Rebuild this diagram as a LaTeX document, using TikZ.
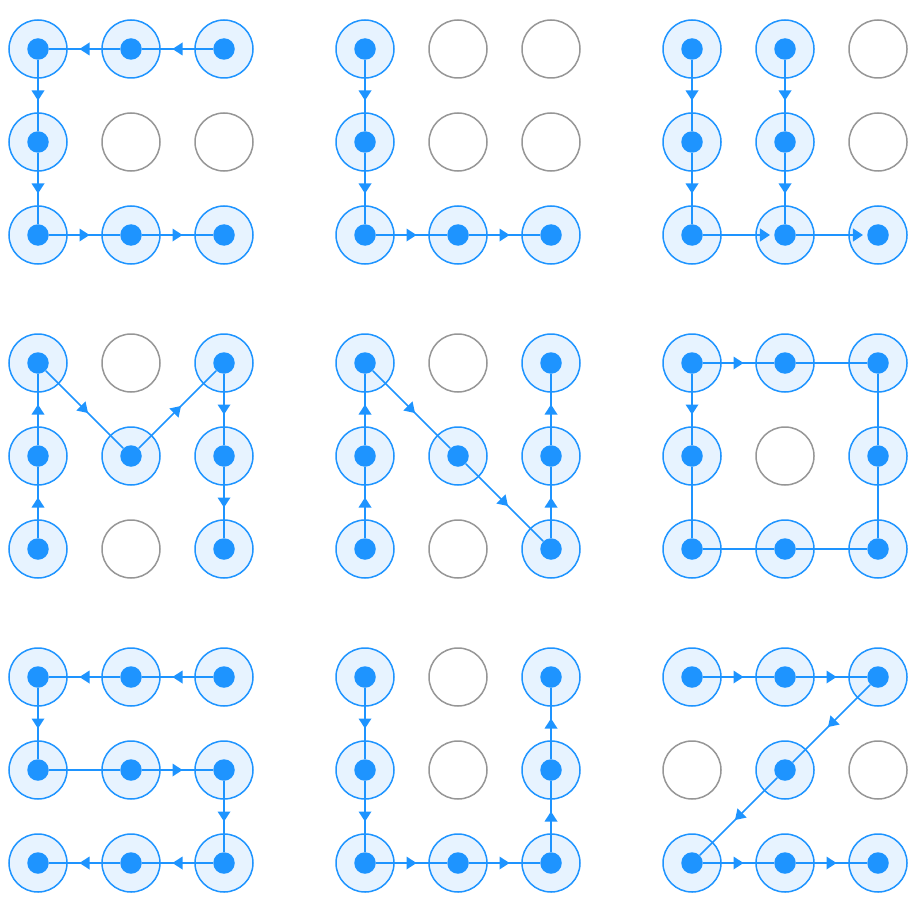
\documentclass[tikz,border=0pt]{standalone}
\usepackage{xcolor}
\usepackage{tikz}
\usetikzlibrary{arrows.meta,decorations.markings}

\definecolor{padblue}{RGB}{30,148,255}
\definecolor{padfill}{RGB}{231,243,255}
\definecolor{padgrey}{RGB}{150,150,150}

\tikzset{
    pad on/.style={circle, draw=padblue, fill=padfill, line width=0.3mm, minimum size=11.6mm, inner sep=0pt},
    pad off/.style={circle, draw=padgrey, line width=0.3mm, minimum size=11.6mm, inner sep=0pt},
    dot/.style={circle, fill=padblue, minimum size=4.3mm, inner sep=0pt},
    link/.style={draw=padblue, line width=0.3mm},
    mid/.style={link, postaction={decorate}, decoration={markings,
        mark=at position 0.5 with {\fill[padblue] (-1mm,-1.3mm) -- (1mm,0mm) -- (-1mm,1.3mm) -- cycle;}}},
    tip/.style={link, -{Triangle[length=2mm, width=2.6mm]}, shorten >=0.8mm},
}

\begin{document}
\begin{tikzpicture}[x=0.2mm, y=-0.2mm]
        \useasboundingbox (0,0) rectangle (915,915);
        \foreach \k/\ox/\oy/\on in {a/0/0/{31,21,11,12,13,23,33}, b/327/0/{11,12,13,23,33}, c/654/0/{11,12,13,21,22,23,33},
                                    d/0/314/{13,12,11,22,31,32,33}, e/327/314/{13,12,11,22,33,32,31}, f/654/314/{11,21,31,12,32,13,23,33},
                                    g/0/628/{11,21,31,12,22,32,13,23,33}, h/327/628/{11,12,13,23,33,32,31}, i/654/628/{11,21,31,22,13,23,33}} {
            \foreach \p in \on {\expandafter\xdef\csname on\k\p\endcsname{1}}
            \foreach \c in {1,2,3} {
                \foreach \r in {1,2,3} {
                    \ifcsname on\k\c\r\endcsname
                        \node[pad on] at ({\ox+93*\c-55}, {\oy+93*\r-44}) {};
                        \node[dot] (\k\c\r) at ({\ox+93*\c-55}, {\oy+93*\r-44}) {};
                    \else
                        \node[pad off] (\k\c\r) at ({\ox+93*\c-55}, {\oy+93*\r-44}) {};
                    \fi
                }
            }
        }
        \foreach \u/\v in {a31/a21, a21/a11, a11/a12, a12/a13, a13/a23, a23/a33,
                           b11/b12, b12/b13, b13/b23, b23/b33,
                           c11/c12, c12/c13, c21/c22, c22/c23,
                           d13/d12, d12/d11, d11/d22, d22/d31, d31/d32, d32/d33,
                           e13/e12, e12/e11, e11/e22, e22/e33, e33/e32, e32/e31,
                           f11/f21, f11/f12,
                           g31/g21, g21/g11, g11/g12, g22/g32, g32/g33, g33/g23, g23/g13,
                           h11/h12, h12/h13, h13/h23, h23/h33, h33/h32, h32/h31,
                           i11/i21, i21/i31, i31/i22, i22/i13, i13/i23, i23/i33}
            \draw[mid] (\u) -- (\v);
        \foreach \u/\v in {f21/f31, f12/f13, f13/f23, f23/f33, f33/f32, f32/f31, g12/g22}
            \draw[link] (\u) -- (\v);
        \draw[tip] (c13) -- (c23);
        \draw[tip] (c23) -- (c33);
    \end{tikzpicture}
\end{document}
